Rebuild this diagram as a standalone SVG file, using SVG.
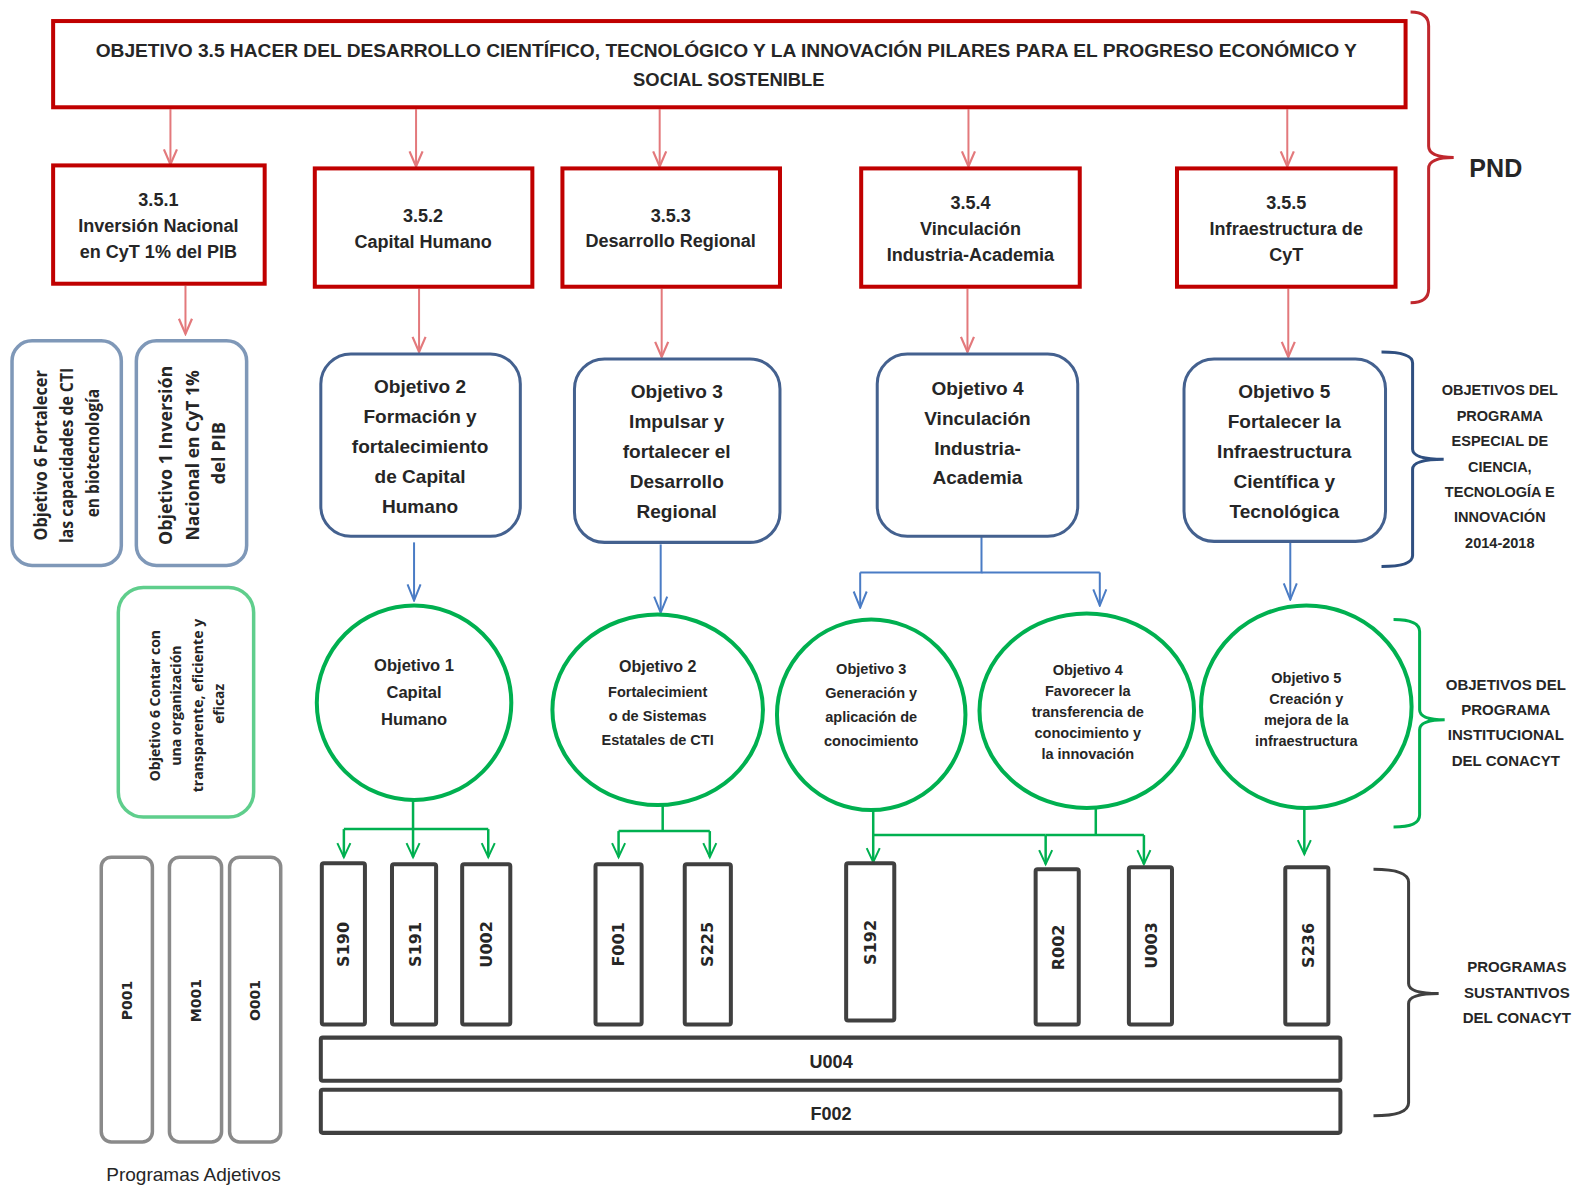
<svg xmlns="http://www.w3.org/2000/svg" width="1572" height="1186" viewBox="0 0 1572 1186">
  <defs>
    <style>
      .t { font-family: "Liberation Sans", Arial, sans-serif; font-weight: bold; fill: #262626; text-anchor: middle; }
      .os { font-family: "Open Sans", "Liberation Sans", sans-serif; font-weight: bold; fill: #262626; text-anchor: middle; }
      .dv { font-family: "DejaVu Sans", Verdana, sans-serif; font-weight: bold; fill: #262626; text-anchor: middle; dominant-baseline: central; }
      .pnd { fill: #fff; stroke: #C00000; stroke-width: 4; }
      .pei { fill: #fff; stroke: #44618F; stroke-width: 3; }
      .pei2 { fill: #fff; stroke: #7F98B8; stroke-width: 3.5; }
      .pi { fill: #fff; stroke: #00B050; stroke-width: 4; }
      .pi2 { fill: #fff; stroke: #5FCE8C; stroke-width: 3.5; }
      .ps { fill: #fff; stroke: #404040; stroke-width: 4; }
      .pa { fill: #fff; stroke: #8A8A8A; stroke-width: 3.5; }
      .cr { fill: none; stroke: #E3797C; stroke-width: 2; marker-end: url(#hr); }
      .cb { fill: none; stroke: #4A7CC5; stroke-width: 2; }
      .cbm { marker-end: url(#hb); }
      .cg { fill: none; stroke: #00B050; stroke-width: 2.5; }
      .cgm { marker-end: url(#hg); }
      .brace { fill: none; stroke-width: 3; }
    </style>
    <marker id="hr" viewBox="-1 -8 18 16" refX="15" refY="0" markerWidth="18" markerHeight="16" markerUnits="userSpaceOnUse" orient="auto">
      <path d="M0,-6.5 L15,0 L0,6.5" fill="none" stroke="#E3797C" stroke-width="2.2"/>
    </marker>
    <marker id="hb" viewBox="-1 -8 18 16" refX="16" refY="0" markerWidth="18" markerHeight="16" markerUnits="userSpaceOnUse" orient="auto">
      <path d="M0,-6.5 L16,0 L0,6.5" fill="none" stroke="#4A7CC5" stroke-width="2"/>
    </marker>
    <marker id="hg" viewBox="-1 -8 18 16" refX="14" refY="0" markerWidth="18" markerHeight="16" markerUnits="userSpaceOnUse" orient="auto">
      <path d="M0,-6.5 L14,0 L0,6.5" fill="none" stroke="#00B050" stroke-width="2"/>
    </marker>
  </defs>

  <rect width="1572" height="1186" fill="#fff"/>

  <g transform="scale(1.00255,1.00254)">
  <!-- connectors -->
  <g id="connectors">
    <!-- PND objective to strategies -->
    <path class="cr" d="M170,109 V164"/>
    <path class="cr" d="M415,109 V166"/>
    <path class="cr" d="M658,109 V166"/>
    <path class="cr" d="M966,109 V166"/>
    <path class="cr" d="M1284,109 V166"/>
    <!-- strategies to PECiTI objectives -->
    <path class="cr" d="M185,285 V333"/>
    <path class="cr" d="M418,288 V351"/>
    <path class="cr" d="M660,288 V356"/>
    <path class="cr" d="M965,288 V351"/>
    <path class="cr" d="M1285,288 V356"/>
    <!-- PECiTI objectives to institutional objectives -->
    <path class="cb cbm" d="M413,541 V599"/>
    <path class="cb cbm" d="M659,543 V611"/>
    <path class="cb" d="M979,535 V571 H858"/>
    <path class="cb cbm" d="M858,571 V606"/>
    <path class="cb" d="M979,571 H1097"/>
    <path class="cb cbm" d="M1097,571 V604"/>
    <path class="cb cbm" d="M1287,541 V598"/>
    <!-- institutional objectives to programs -->
    <path class="cg" d="M412,799 V827 M343,827 H487"/>
    <path class="cg cgm" d="M343,827 V855"/>
    <path class="cg cgm" d="M412,827 V855"/>
    <path class="cg cgm" d="M487,827 V855"/>
    <path class="cg" d="M661,803 V829 M617,829 H708"/>
    <path class="cg cgm" d="M617,829 V855"/>
    <path class="cg cgm" d="M708,829 V855"/>
    <path class="cg cgm" d="M871,808 V860"/>
    <path class="cg" d="M871,833 H1043" stroke-width="1.5"/>
    <path class="cg" d="M1093,806 V833 M1043,833 H1141"/>
    <path class="cg cgm" d="M1043,833 V862"/>
    <path class="cg cgm" d="M1141,833 V862"/>
    <path class="cg cgm" d="M1301,807 V852"/>
  </g>

  <!-- PND objective -->
  <g id="obj-3-5">
    <rect class="pnd" x="53" y="21" width="1349" height="86" stroke-width="4.5"/>
    <text class="t" font-size="18.5">
      <tspan x="727" y="57" textLength="1258" lengthAdjust="spacingAndGlyphs">OBJETIVO 3.5 HACER DEL DESARROLLO CIENTÍFICO, TECNOLÓGICO Y LA INNOVACIÓN PILARES PARA EL PROGRESO ECONÓMICO Y</tspan>
      <tspan x="727" y="86" textLength="191" lengthAdjust="spacingAndGlyphs">SOCIAL SOSTENIBLE</tspan>
    </text>
  </g>

  <!-- PND strategies -->
  <g id="est-3-5-1">
    <rect class="pnd" x="53" y="165" width="211" height="118"/>
    <text class="t" font-size="18"><tspan x="158" y="205">3.5.1</tspan><tspan x="158" y="231">Inversión Nacional</tspan><tspan x="158" y="257">en CyT 1% del PIB</tspan></text>
  </g>
  <g id="est-3-5-2">
    <rect class="pnd" x="314" y="168" width="217" height="118"/>
    <text class="t" font-size="18"><tspan x="422" y="221">3.5.2</tspan><tspan x="422" y="247">Capital Humano</tspan></text>
  </g>
  <g id="est-3-5-3">
    <rect class="pnd" x="561" y="168" width="217" height="118"/>
    <text class="t" font-size="18"><tspan x="669" y="221">3.5.3</tspan><tspan x="669" y="246">Desarrollo Regional</tspan></text>
  </g>
  <g id="est-3-5-4">
    <rect class="pnd" x="859" y="168" width="218" height="118"/>
    <text class="t" font-size="18"><tspan x="968" y="208">3.5.4</tspan><tspan x="968" y="234">Vinculación</tspan><tspan x="968" y="260">Industria-Academia</tspan></text>
  </g>
  <g id="est-3-5-5">
    <rect class="pnd" x="1174" y="168" width="218" height="118"/>
    <text class="t" font-size="18"><tspan x="1283" y="208">3.5.5</tspan><tspan x="1283" y="234">Infraestructura de</tspan><tspan x="1283" y="260">CyT</tspan></text>
  </g>

  <!-- PND bracket -->
  <g id="brace-pnd">
    <path class="brace" stroke="#C0272D" d="M1407,12 Q1425,12 1425,26 V146 Q1425,157 1450,157 Q1425,157 1425,168 V288 Q1425,302 1407,302"/>
    <text class="t" font-size="25" x="1492" y="177" fill="#111">PND</text>
  </g>

  <!-- PECiTI objectives -->
  <g id="peciti-6">
    <rect class="pei2" x="12" y="340" width="109" height="224" rx="20"/>
    <text class="os" font-size="17" transform="translate(0,452) rotate(-90)">
      <tspan x="0" y="47" textLength="170" lengthAdjust="spacingAndGlyphs">Objetivo 6 Fortalecer</tspan>
      <tspan x="0" y="73" textLength="175" lengthAdjust="spacingAndGlyphs">las capacidades de CTI</tspan>
      <tspan x="0" y="99" textLength="128" lengthAdjust="spacingAndGlyphs">en biotecnología</tspan>
    </text>
  </g>
  <g id="peciti-1">
    <rect class="pei2" x="136" y="340" width="110" height="224" rx="20"/>
    <text class="os" font-size="17" transform="translate(0,452) rotate(-90)">
      <tspan x="0" y="172" textLength="179" lengthAdjust="spacingAndGlyphs">Objetivo 1 Inversión</tspan>
      <tspan x="0" y="198" textLength="170" lengthAdjust="spacingAndGlyphs">Nacional en CyT 1%</tspan>
      <tspan x="0" y="224" textLength="62" lengthAdjust="spacingAndGlyphs">del PIB</tspan>
    </text>
  </g>
  <g id="peciti-2">
    <rect class="pei" x="320" y="353" width="199" height="182" rx="30"/>
    <text class="t" font-size="19"><tspan x="419" y="392">Objetivo 2</tspan><tspan x="419" y="422">Formación y</tspan><tspan x="419" y="452">fortalecimiento</tspan><tspan x="419" y="482">de Capital</tspan><tspan x="419" y="512">Humano</tspan></text>
  </g>
  <g id="peciti-3">
    <rect class="pei" x="573" y="358" width="205" height="183" rx="30"/>
    <text class="t" font-size="19"><tspan x="675" y="397">Objetivo 3</tspan><tspan x="675" y="427">Impulsar y</tspan><tspan x="675" y="457">fortalecer el</tspan><tspan x="675" y="487">Desarrollo</tspan><tspan x="675" y="517">Regional</tspan></text>
  </g>
  <g id="peciti-4">
    <rect class="pei" x="875" y="353" width="200" height="182" rx="30"/>
    <text class="t" font-size="19"><tspan x="975" y="394">Objetivo 4</tspan><tspan x="975" y="424">Vinculación</tspan><tspan x="975" y="454">Industria-</tspan><tspan x="975" y="483">Academia</tspan></text>
  </g>
  <g id="peciti-5">
    <rect class="pei" x="1181" y="358" width="201" height="182" rx="30"/>
    <text class="t" font-size="19"><tspan x="1281" y="397">Objetivo 5</tspan><tspan x="1281" y="427">Fortalecer la</tspan><tspan x="1281" y="457">Infraestructura</tspan><tspan x="1281" y="487">Científica y</tspan><tspan x="1281" y="517">Tecnológica</tspan></text>
  </g>

  <!-- PECiTI bracket -->
  <g id="brace-peciti">
    <path class="brace" stroke="#2F4F80" d="M1378,351 Q1409,351 1409,362 V448 Q1409,458 1440,458 Q1409,458 1409,468 V554 Q1409,565 1378,565"/>
    <text class="t" font-size="14.5"><tspan x="1496" y="394">OBJETIVOS DEL</tspan><tspan x="1496" y="420">PROGRAMA</tspan><tspan x="1496" y="445">ESPECIAL DE</tspan><tspan x="1496" y="471">CIENCIA,</tspan><tspan x="1496" y="496">TECNOLOGÍA E</tspan><tspan x="1496" y="521">INNOVACIÓN</tspan><tspan x="1496" y="547">2014-2018</tspan></text>
  </g>

  <!-- CONACYT institutional objectives -->
  <g id="pi-6">
    <rect class="pi2" x="118" y="586" width="135" height="229" rx="25"/>
    <text class="os" font-size="14" transform="translate(0,702) rotate(-90)">
      <tspan x="0" y="160" textLength="151" lengthAdjust="spacingAndGlyphs">Objetivo 6 Contar con</tspan>
      <tspan x="0" y="181" textLength="120" lengthAdjust="spacingAndGlyphs">una organización</tspan>
      <tspan x="0" y="202" textLength="173" lengthAdjust="spacingAndGlyphs">transparente, eficiente y</tspan>
      <tspan x="0" y="223" textLength="40" lengthAdjust="spacingAndGlyphs">eficaz</tspan>
    </text>
  </g>
  <g id="pi-1">
    <ellipse class="pi" cx="413" cy="701" rx="97" ry="97"/>
    <text class="t" font-size="16.5"><tspan x="413" y="669">Objetivo 1</tspan><tspan x="413" y="696">Capital</tspan><tspan x="413" y="723">Humano</tspan></text>
  </g>
  <g id="pi-2">
    <ellipse class="pi" cx="656" cy="708" rx="105" ry="95"/>
    <text class="t" font-size="14.5"><tspan x="656" y="670" font-size="16">Objetivo 2</tspan><tspan x="656" y="695">Fortalecimient</tspan><tspan x="656" y="719">o de Sistemas</tspan><tspan x="656" y="743">Estatales de CTI</tspan></text>
  </g>
  <g id="pi-3">
    <ellipse class="pi" cx="869" cy="713" rx="94" ry="95"/>
    <text class="t" font-size="14.5"><tspan x="869" y="672">Objetivo 3</tspan><tspan x="869" y="696">Generación y</tspan><tspan x="869" y="720">aplicación de</tspan><tspan x="869" y="744">conocimiento</tspan></text>
  </g>
  <g id="pi-4">
    <ellipse class="pi" cx="1084" cy="709" rx="107" ry="97"/>
    <text class="t" font-size="14.5"><tspan x="1085" y="673">Objetivo 4</tspan><tspan x="1085" y="694">Favorecer la</tspan><tspan x="1085" y="715">transferencia de</tspan><tspan x="1085" y="736">conocimiento y</tspan><tspan x="1085" y="757">la innovación</tspan></text>
  </g>
  <g id="pi-5">
    <ellipse class="pi" cx="1303" cy="705" rx="105" ry="101"/>
    <text class="t" font-size="14.5"><tspan x="1303" y="681">Objetivo 5</tspan><tspan x="1303" y="702">Creación y</tspan><tspan x="1303" y="723">mejora de la</tspan><tspan x="1303" y="744">infraestructura</tspan></text>
  </g>

  <!-- Institutional program bracket -->
  <g id="brace-pi">
    <path class="brace" stroke="#00B050" d="M1390,618 Q1416,618 1416,630 V708 Q1416,718 1441,718 Q1416,718 1416,728 V813 Q1416,825 1390,825"/>
    <text class="t" font-size="15"><tspan x="1502" y="688">OBJETIVOS DEL</tspan><tspan x="1502" y="713">PROGRAMA</tspan><tspan x="1502" y="738">INSTITUCIONAL</tspan><tspan x="1502" y="764">DEL CONACYT</tspan></text>
  </g>

  <!-- Substantive programs -->
  <g id="prog-s190"><rect class="ps" x="321" y="861" width="43" height="161" rx="2"/><text class="dv" font-size="16" transform="translate(343,942) rotate(-90)">S190</text></g>
  <g id="prog-s191"><rect class="ps" x="391" y="862" width="44" height="160" rx="2"/><text class="dv" font-size="16" transform="translate(414,942) rotate(-90)">S191</text></g>
  <g id="prog-u002"><rect class="ps" x="461" y="862" width="48" height="160" rx="2"/><text class="dv" font-size="16" transform="translate(485,942) rotate(-90)">U002</text></g>
  <g id="prog-f001"><rect class="ps" x="594" y="862" width="46" height="160" rx="2"/><text class="dv" font-size="16" transform="translate(617,942) rotate(-90)">F001</text></g>
  <g id="prog-s225"><rect class="ps" x="683" y="862" width="46" height="160" rx="2"/><text class="dv" font-size="16" transform="translate(706,942) rotate(-90)">S225</text></g>
  <g id="prog-s192"><rect class="ps" x="844" y="861" width="48" height="157" rx="2"/><text class="dv" font-size="16" transform="translate(868,940) rotate(-90)">S192</text></g>
  <g id="prog-r002"><rect class="ps" x="1033" y="867" width="43" height="155" rx="2"/><text class="dv" font-size="16" transform="translate(1056,945) rotate(-90)">R002</text></g>
  <g id="prog-u003"><rect class="ps" x="1126" y="865" width="43" height="157" rx="2"/><text class="dv" font-size="16" transform="translate(1149,943) rotate(-90)">U003</text></g>
  <g id="prog-s236"><rect class="ps" x="1282" y="865" width="43" height="157" rx="2"/><text class="dv" font-size="16" transform="translate(1305,943) rotate(-90)">S236</text></g>
  <g id="prog-u004"><rect class="ps" x="320" y="1035" width="1017" height="43" rx="2"/><text class="t" font-size="18" x="829" y="1065">U004</text></g>
  <g id="prog-f002"><rect class="ps" x="320" y="1087" width="1017" height="43" rx="2"/><text class="t" font-size="18" x="829" y="1117">F002</text></g>

  <!-- Substantive program bracket -->
  <g id="brace-ps">
    <path class="brace" stroke="#404040" d="M1370,867 Q1405,867 1405,880 V981 Q1405,991 1435,991 Q1405,991 1405,1001 V1100 Q1405,1113 1370,1113"/>
    <text class="t" font-size="15"><tspan x="1513" y="970">PROGRAMAS</tspan><tspan x="1513" y="995">SUSTANTIVOS</tspan><tspan x="1513" y="1020">DEL CONACYT</tspan></text>
  </g>

  <!-- Support programs -->
  <g id="prog-p001"><rect class="pa" x="101" y="855" width="51" height="284" rx="10"/><text class="dv" font-size="14" transform="translate(127,998) rotate(-90)">P001</text></g>
  <g id="prog-m001"><rect class="pa" x="169" y="855" width="52" height="284" rx="10"/><text class="dv" font-size="14" transform="translate(196,998) rotate(-90)">M001</text></g>
  <g id="prog-o001"><rect class="pa" x="229" y="855" width="51" height="284" rx="10"/><text class="dv" font-size="14" transform="translate(254,998) rotate(-90)">O001</text></g>
  <text x="193" y="1178" font-family="Liberation Sans, Arial, sans-serif" font-size="19" fill="#262626" text-anchor="middle">Programas Adjetivos</text>
  </g>
</svg>
